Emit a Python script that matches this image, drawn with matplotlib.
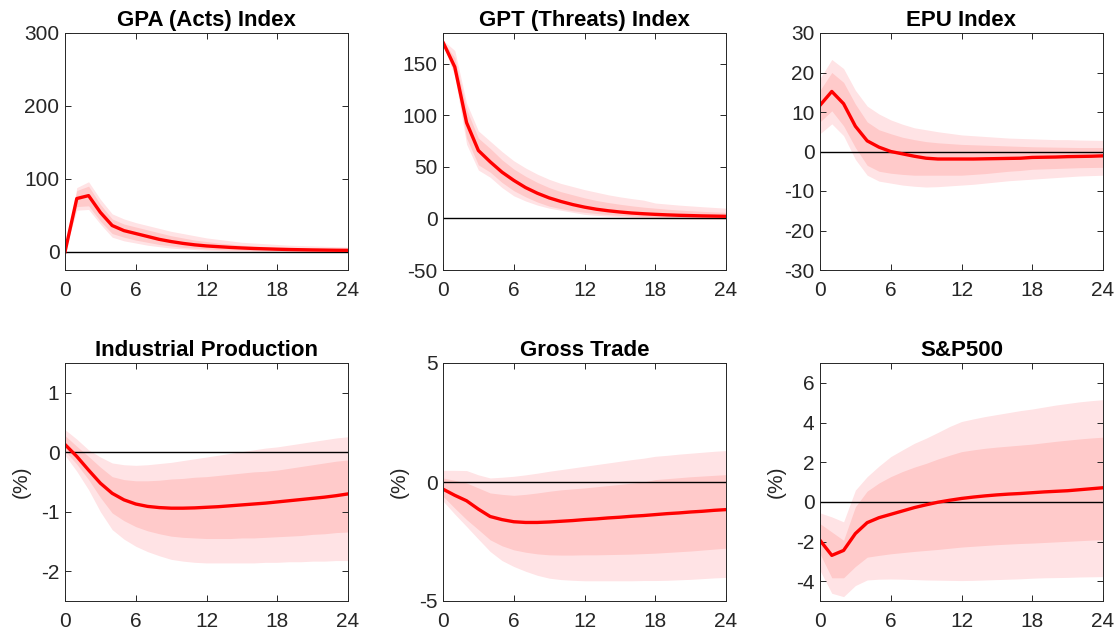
import matplotlib

matplotlib.use("Agg")

import matplotlib.pyplot as plt

plt.rcParams["font.family"] = ["Liberation Sans", "DejaVu Sans"]
plt.rcParams["axes.unicode_minus"] = False

horizon = list(range(25))
xticks = [0, 6, 12, 18, 24]

titles = ["GPA (Acts) Index", "GPT (Threats) Index", "EPU Index",
          "Industrial Production", "Gross Trade", "S&P500"]
ylabels = ["", "", "", "(%)", "(%)", "(%)"]
ylims = [(-25, 300), (-50, 180), (-30, 30), (-2.5, 1.5), (-5, 5), (-5, 7)]
yticks = [[0, 100, 200, 300], [-50, 0, 50, 100, 150], [-30, -20, -10, 0, 10, 20, 30],
          [-2, -1, 0, 1], [-5, 0, 5], [-4, -2, 0, 2, 4, 6]]

# GPA (Acts)
gpa_med = [0, 73, 77, 54, 36, 29, 25, 21, 17, 14, 11.5, 9.5, 8, 7, 6, 5.2, 4.5, 4, 3.5, 3.1,
           2.8, 2.5, 2.3, 2.1, 2]
gpa_in_lo = [0, 62, 63, 42, 25, 20, 16, 13, 10, 8, 6, 5, 4, 3, 2.5, 2, 1.5, 1.2, 1, 0.8,
             0.6, 0.5, 0.4, 0.3, 0.2]
gpa_in_hi = [0, 84, 90, 65, 45, 38, 34, 30, 26, 22, 19, 16, 14, 12, 10.5, 9, 8, 7, 6.5, 6,
             5.5, 5, 4.5, 4, 3.5]
gpa_out_lo = [0, 57, 58, 38, 20, 15, 12, 9, 7, 5, 4, 3, 2, 1.5, 1, 1, 0.5, 0.5, 0, 0,
              0, 0, -0.5, -0.5, -0.5]
gpa_out_hi = [0, 88, 96, 72, 52, 45, 40, 36, 32, 28, 25, 22, 19, 17, 15, 13, 12, 11, 10, 9,
              8.5, 8, 7.5, 7, 6.5]

# GPT (Threats)
gpt_med = [171, 147, 93, 66, 55, 45, 37, 30, 24.5, 20, 16.5, 13.5, 11, 9, 7.5, 6.3, 5.3, 4.6,
           4, 3.5, 3.1, 2.8, 2.5, 2.3, 2.1]
gpt_in_lo = [170, 141, 78, 52, 45, 35, 27, 21, 16, 12, 9.5, 7.5, 6, 4.8, 3.8, 3, 2.4, 1.8,
             1.4, 1.1, 0.8, 0.6, 0.4, 0.2, 0]
gpt_in_hi = [172, 156, 106, 78, 68, 57, 48, 41, 35, 30, 26, 23, 20, 17.5, 15.5, 13.8, 12.3,
             11, 10, 9, 8.2, 7.5, 6.9, 6.4, 6]
gpt_out_lo = [169, 138, 72, 47, 40, 30, 22, 17, 13, 10, 8, 6, 4, 3, 2.3, 1.7, 1.2, 0.8, 0,
              -0.3, -0.5, -0.7, -0.8, -0.9, -1]
gpt_out_hi = [173, 163, 112, 85, 75, 65, 56, 49, 43, 38, 34, 31, 28, 25.5, 23, 21, 19.3, 17.8,
              15, 14, 13, 12.2, 11.4, 10.7, 10]

# EPU
epu_med = [11.7, 15.2, 12.1, 6.4, 2.7, 1.1, 0, -0.6, -1.2, -1.7, -1.9, -1.9, -1.9, -1.9,
           -1.85, -1.8, -1.75, -1.7, -1.5, -1.45, -1.4, -1.3, -1.25, -1.2, -1.1]
epu_in_lo = [7.5, 10.3, 6.5, 1, -3.5, -5, -5.5, -5.8, -6, -6, -6, -6, -6, -5.8, -5.6, -5.3,
             -5, -4.8, -4.5, -4.4, -4.3, -4.2, -4.1, -4.05, -4]
epu_in_hi = [15.5, 20, 17.5, 12, 7.5, 5.5, 4.5, 3.6, 3, 2.5, 2.2, 2, 1.8, 1.7, 1.6, 1.5, 1.4,
             1.3, 1.2, 1.15, 1.1, 1.05, 1.0, 1.0, 1.0]
epu_out_lo = [4.5, 7, 4, -2, -6, -7.5, -8, -8.5, -8.8, -9, -8.9, -8.7, -8.5, -8.3, -8, -7.7,
              -7.4, -7.2, -7, -6.8, -6.6, -6.4, -6.2, -6.1, -6]
epu_out_hi = [18.5, 23.3, 21, 15.5, 11.5, 9.5, 8, 6.9, 6, 5.5, 5, 4.6, 4.2, 4, 3.8, 3.6, 3.4,
              3.3, 3.2, 3.1, 3, 3, 2.9, 2.85, 2.8]

# Industrial Production
ip_med = [0.13, -0.07, -0.3, -0.52, -0.69, -0.8, -0.87, -0.91, -0.93, -0.94, -0.94, -0.935,
          -0.925, -0.915, -0.9, -0.885, -0.87, -0.855, -0.835, -0.815, -0.795, -0.775, -0.755,
          -0.73, -0.7]
ip_in_lo = [0.02, -0.2, -0.46, -0.76, -1.02, -1.15, -1.25, -1.32, -1.37, -1.41, -1.43, -1.44,
            -1.45, -1.45, -1.45, -1.44, -1.44, -1.43, -1.42, -1.41, -1.4, -1.38, -1.37, -1.35,
            -1.34]
ip_in_hi = [0.28, 0.1, -0.07, -0.25, -0.41, -0.46, -0.48, -0.48, -0.47, -0.45, -0.44, -0.42,
            -0.41, -0.39, -0.37, -0.35, -0.33, -0.32, -0.3, -0.27, -0.24, -0.21, -0.18, -0.15,
            -0.13]
ip_out_lo = [-0.05, -0.32, -0.63, -1.0, -1.3, -1.46, -1.58, -1.67, -1.74, -1.8, -1.83, -1.85,
             -1.86, -1.86, -1.86, -1.86, -1.86, -1.85, -1.85, -1.84, -1.84, -1.83, -1.83,
             -1.82, -1.82]
ip_out_hi = [0.38, 0.22, 0.04, -0.08, -0.18, -0.21, -0.22, -0.21, -0.19, -0.17, -0.14, -0.11,
             -0.08, -0.05, -0.02, 0.01, 0.04, 0.07, 0.09, 0.12, 0.15, 0.18, 0.21, 0.24, 0.26]

# Gross Trade
tr_med = [-0.3, -0.56, -0.79, -1.14, -1.45, -1.58, -1.67, -1.7, -1.7, -1.68, -1.65, -1.62,
          -1.58, -1.55, -1.51, -1.48, -1.44, -1.41, -1.37, -1.33, -1.3, -1.26, -1.23, -1.19,
          -1.16]
tr_in_lo = [-0.6, -1.1, -1.58, -2.0, -2.43, -2.68, -2.85, -2.95, -3.02, -3.06, -3.07, -3.07,
            -3.06, -3.06, -3.05, -3.04, -3.03, -3.01, -2.99, -2.96, -2.93, -2.9, -2.86, -2.82,
            -2.78]
tr_in_hi = [0.17, 0.07, -0.04, -0.25, -0.46, -0.52, -0.56, -0.52, -0.46, -0.39, -0.33, -0.29,
            -0.25, -0.2, -0.15, -0.1, -0.05, 0.0, 0.1, 0.14, 0.18, 0.22, 0.25, 0.28, 0.31]
tr_out_lo = [-0.8, -1.35, -1.87, -2.4, -2.92, -3.3, -3.55, -3.75, -3.92, -4.04, -4.1, -4.13,
             -4.15, -4.15, -4.15, -4.15, -4.15, -4.14, -4.14, -4.13, -4.11, -4.09, -4.06,
             -4.03, -4.01]
tr_out_hi = [0.49, 0.49, 0.48, 0.3, 0.17, 0.2, 0.24, 0.3, 0.37, 0.45, 0.52, 0.59, 0.66,
             0.73, 0.8, 0.87, 0.94, 1.0, 1.08, 1.12, 1.17, 1.21, 1.25, 1.29, 1.32]

# S&P500
sp_med = [-1.94, -2.7, -2.45, -1.6, -1.05, -0.8, -0.63, -0.46, -0.29, -0.15, -0.02, 0.08,
          0.17, 0.24, 0.3, 0.35, 0.39, 0.42, 0.46, 0.5, 0.53, 0.56, 0.61, 0.66, 0.71]
sp_in_lo = [-2.62, -3.83, -3.83, -3.26, -2.79, -2.7, -2.62, -2.56, -2.5, -2.45, -2.4, -2.34,
            -2.28, -2.24, -2.2, -2.16, -2.13, -2.1, -2.08, -2.05, -2.02, -1.99, -1.96, -1.93,
            -1.91]
sp_in_hi = [-1.1, -1.52, -1.94, -0.25, 0.54, 0.95, 1.27, 1.53, 1.75, 1.94, 2.16, 2.35, 2.53,
            2.62, 2.7, 2.76, 2.81, 2.86, 2.91, 2.98, 3.05, 3.11, 3.17, 3.22, 3.26]
sp_out_lo = [-3.46, -4.61, -4.78, -4.22, -3.94, -3.9, -3.89, -3.9, -3.92, -3.94, -3.95, -3.96,
             -3.97, -3.96, -3.94, -3.92, -3.9, -3.88, -3.85, -3.83, -3.82, -3.81, -3.79,
             -3.78, -3.77]
sp_out_hi = [-0.56, -0.76, -1.01, 0.59, 1.27, 1.8, 2.28, 2.62, 2.95, 3.21, 3.5, 3.8, 4.05,
             4.18, 4.3, 4.4, 4.5, 4.6, 4.68, 4.78, 4.88, 4.96, 5.04, 5.1, 5.15]

series = [
    (gpa_med, gpa_in_lo, gpa_in_hi, gpa_out_lo, gpa_out_hi),
    (gpt_med, gpt_in_lo, gpt_in_hi, gpt_out_lo, gpt_out_hi),
    (epu_med, epu_in_lo, epu_in_hi, epu_out_lo, epu_out_hi),
    (ip_med, ip_in_lo, ip_in_hi, ip_out_lo, ip_out_hi),
    (tr_med, tr_in_lo, tr_in_hi, tr_out_lo, tr_out_hi),
    (sp_med, sp_in_lo, sp_in_hi, sp_out_lo, sp_out_hi),
]

W, H = 1120, 633
lefts = [65, 443, 820]
tops = [33, 363]
bottoms = [270, 601]
ax_w = 283

fig = plt.figure(figsize=(W / 100, H / 100), dpi=100)

for i, (med, in_lo, in_hi, out_lo, out_hi) in enumerate(series):
    r, c = divmod(i, 3)
    rect = [lefts[c] / W, 1 - bottoms[r] / H, ax_w / W, (bottoms[r] - tops[r]) / H]
    ax = fig.add_axes(rect)
    ax.fill_between(horizon, out_lo, out_hi, color="#ffe3e5", lw=0)
    ax.fill_between(horizon, in_lo, in_hi, color="#ffcaca", lw=0)
    ax.axhline(0, color="black", lw=1.0)
    ax.plot(horizon, med, color="#ff0000", lw=2.4)
    ax.set_xlim(0, 24)
    ax.set_ylim(*ylims[i])
    ax.set_xticks(xticks)
    ax.set_yticks(yticks[i])
    ax.tick_params(direction="in", top=True, right=True, length=4, width=0.7,
                   colors="#262626", labelsize=15, pad=4)
    ax.tick_params(axis="x", pad=8)
    for s in ax.spines.values():
        s.set_linewidth(0.7)
        s.set_color("#262626")
    ax.set_title(titles[i], fontsize=16, fontweight="bold", pad=5)
    if ylabels[i]:
        ax.set_ylabel(ylabels[i], fontsize=15, color="#262626", labelpad=7)

fig.savefig("out.png", dpi=100)
